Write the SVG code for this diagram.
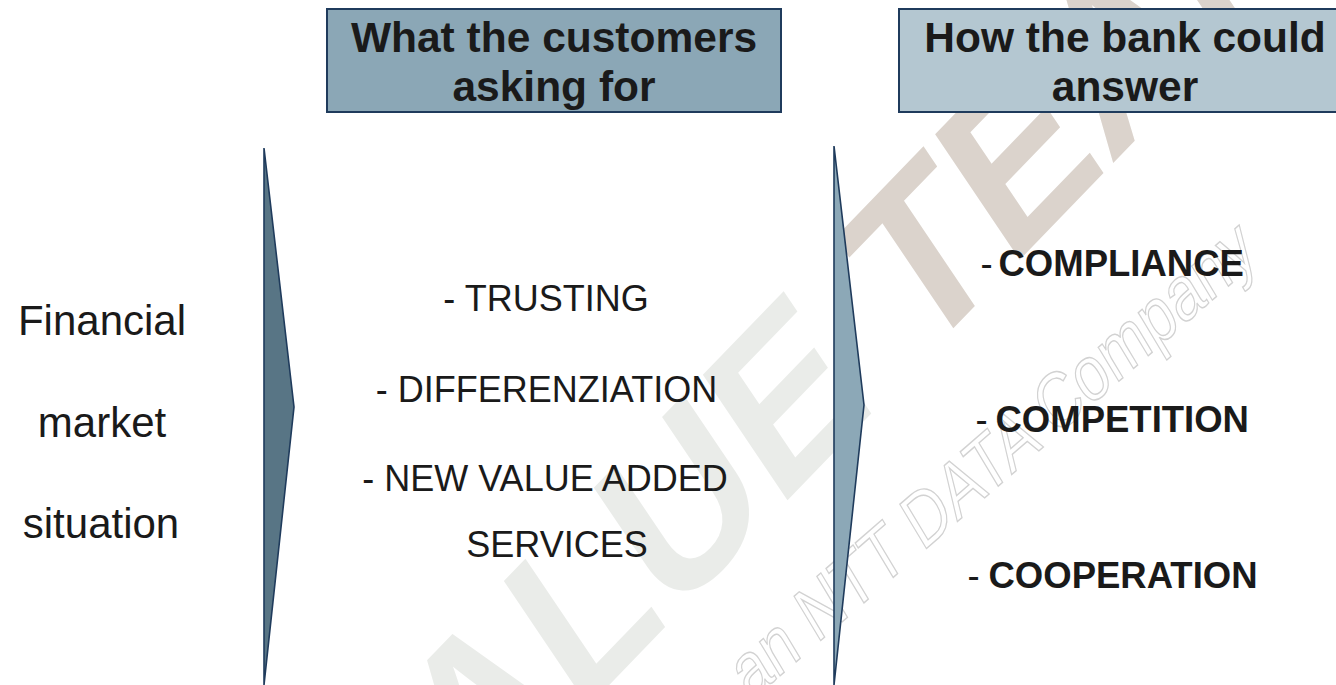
<svg xmlns="http://www.w3.org/2000/svg" width="1336" height="685" viewBox="0 0 1336 685">
<style>
text{font-family:"Liberation Sans",Arial,sans-serif;fill:#1a1a1a}
.hdr{font-size:42.5px;font-weight:bold;text-anchor:middle}
.lft{font-size:42px;text-anchor:middle}
.mid{font-size:36px;text-anchor:middle}
.dash{font-size:36.5px}
.ans{font-size:36.5px;font-weight:bold}
.box{stroke:#1f3b5c;stroke-width:2}
.chev{stroke:#1f3b5c;stroke-width:1.6;stroke-linejoin:miter}
.wm1{font-size:215px;font-weight:bold}
.wm2{font-size:74px;fill:none;stroke:#d2d2d2;stroke-width:1.4}
</style>
<rect width="1336" height="685" fill="#ffffff"/>
<g id="watermark">
<g transform="translate(382,920) rotate(-46) skewX(-12)">
<text class="wm1"><tspan style="fill:#eaece9">VALUE </tspan><tspan style="fill:#dbd3cc">TEAM</tspan></text>
</g>
<g transform="translate(750,702) rotate(-41) skewX(-10) scale(0.86,1)">
<text class="wm2">an NTT DATA Company</text>
</g>
</g>
<g id="connectors">
<polygon id="arrow-left" class="chev" points="264,148 294,407 264,685" fill="#587585"/>
<polygon id="arrow-right" class="chev" points="834,146 864,405 834,685" fill="#8ca8b7"/>
</g>
<g id="header-customers">
<rect class="box" x="327" y="9" width="454" height="103" fill="#8ba7b6"/>
<text class="hdr" x="554" y="52">What the customers</text>
<text class="hdr" x="554" y="101">asking for</text>
</g>
<g id="header-bank">
<rect class="box" x="899" y="9" width="440" height="103" fill="#b4c7d1"/>
<text class="hdr" x="1125" y="52">How the bank could</text>
<text class="hdr" x="1125" y="101">answer</text>
</g>
<g id="situation">
<text class="lft" x="102" y="335">Financial</text>
<text class="lft" x="102" y="437">market</text>
<text class="lft" x="101" y="538">situation</text>
</g>
<g id="customer-needs">
<text class="mid" x="546" y="311">- TRUSTING</text>
<text class="mid" x="546.5" y="402">- DIFFERENZIATION</text>
<text class="mid" x="545" y="491">- NEW VALUE ADDED</text>
<text class="mid" x="557" y="557">SERVICES</text>
</g>
<g id="bank-answers">
<text class="dash" x="980.5" y="276">-</text>
<text class="ans" x="998.5" y="276">COMPLIANCE</text>
<text class="dash" x="975.5" y="432">-</text>
<text class="ans" x="995.5" y="432">COMPETITION</text>
<text class="dash" x="967.5" y="588">-</text>
<text class="ans" x="988.5" y="588">COOPERATION</text>
</g>
</svg>
